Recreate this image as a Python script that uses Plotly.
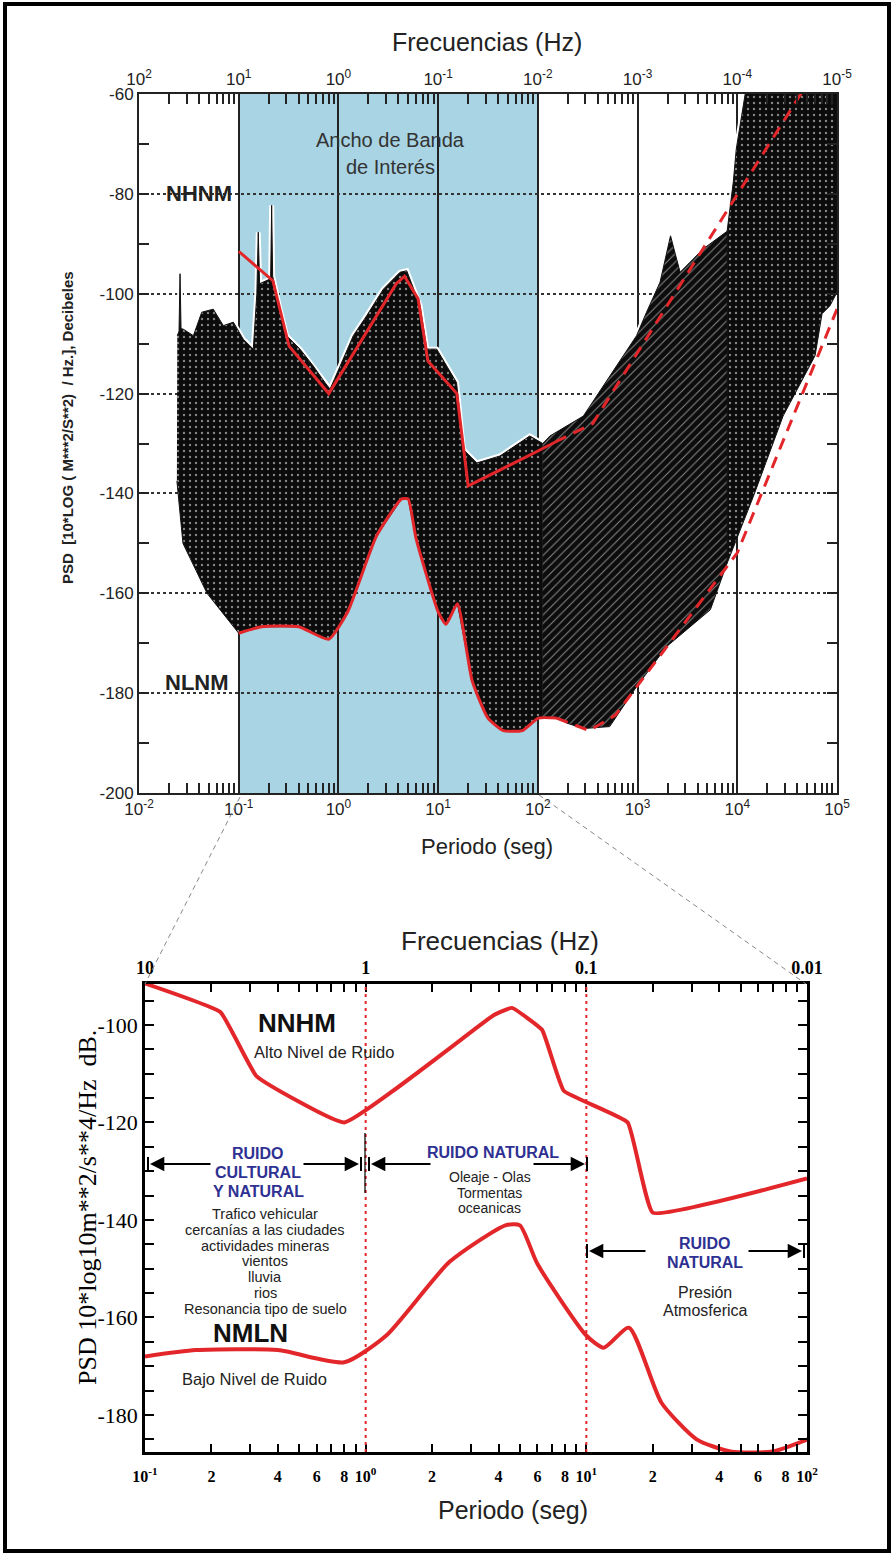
import plotly.graph_objects as go

W, H = 894, 1556
RED = '#E2262A'
BLUE_BAND = '#A8D4E4'
TXT_BLUE = '#2E3192'
SANS = 'Liberation Sans, Arial, sans-serif'
SERIF = 'Liberation Serif, Times New Roman, serif'

# ---------------- data ----------------
# New High Noise Model (period s, dB)
nhnm_period = [0.1, 0.22, 0.32, 0.8, 3.8, 4.6, 6.3, 7.9, 15.4, 20, 100, 150, 354.8, 100000]
nhnm_db = [-91.5, -97.4, -110.5, -120.0, -98.0, -96.5, -101.0, -113.5, -120.0, -138.5, -131.5, -129.7, -126.0, -48.5]

# New Low Noise Model (period s, dB)
nlnm_period = [0.1, 0.17, 0.4, 0.8, 1.24, 2.4, 4.3, 5.0, 6.0, 10, 12, 15.6, 21.9, 31.6, 45, 70,
               101, 154, 328, 600, 10000, 100000]
nlnm_db = [-168.0, -166.7, -166.7, -169.2, -163.7, -148.6, -141.1, -141.1, -149.0, -163.7, -166.2,
           -162.1, -177.5, -185.0, -187.5, -187.5, -185.0, -185.0, -187.5, -184.4, -151.9, -103.1]

# Envelope of the mass of measured PSD curves (top panel)
env_upper_period = [0.0242, 0.0252, 0.0258, 0.0264, 0.0278, 0.0351, 0.0426, 0.0556, 0.0701, 0.0883,
                    0.111, 0.140, 0.152, 0.157, 0.162, 0.176, 0.209, 0.214, 0.219, 0.259,
                    0.302, 0.412, 0.560, 0.733, 0.824, 1.04, 1.41, 1.92, 2.82, 4.15,
                    4.84, 6.58, 7.69, 9.68, 15.3, 17.9, 24.4, 41.7, 83, 112,
                    132, 286, 525, 977, 1230, 1680, 2140, 2670, 4570, 7900,
                    9120, 9770, 12000, 100000]
env_upper_db = [-108.4, -107.5, -96, -107, -107.1, -108.4, -103.7, -103.1, -106.4, -105.7,
                -109.1, -111.1, -100, -87.7, -98, -97.7, -97, -82.3, -96.5, -103.1,
                -108.4, -111.1, -114.5, -117.8, -119.1, -114.5, -108.4, -104.4, -99.1, -95.7,
                -95.4, -102.4, -111.1, -111.1, -117.8, -131.2, -133.9, -132.5, -128.5, -130,
                -128.5, -124.5, -116.5, -108.4, -103.7, -97.7, -88.4, -95.7, -91, -87.5,
                -77.6, -71, -60, -60]
env_lower_period = [0.0240, 0.0276, 0.0481, 0.0764, 0.100, 0.17, 0.40, 0.80, 1.24, 2.40,
                    4.30, 5.00, 6.00, 10.0, 12.0, 15.6, 21.9, 31.6, 45, 70,
                    101, 112, 154, 195, 286, 525, 977, 1950, 5370, 7900,
                    10700, 14500, 28800, 60300, 70800, 85100, 100000]
env_lower_db = [-137.5, -150, -160, -165, -168.0, -166.7, -166.7, -169.2, -163.7, -148.6,
                -141.1, -141.1, -149.0, -163.7, -166.2, -162.1, -177.5, -185.0, -187.5, -187.5,
                -185.0, -185.0, -185.0, -186, -187.1, -186.7, -178.7, -170.7, -163.3, -154.0,
                -147.2, -140.6, -124.5, -112.4, -104, -102.4, -99.7]

band_period = [0.1, 100]            # "Ancho de Banda de Interés"
bottom_marks = [1, 10]              # red dotted lines in the lower panel

# ---------------- helpers ----------------
def X(px):
    return px / W

def Y(py):
    return 1 - py / H

def sel(per, db, lo, hi):
    p = [a for a, b in zip(per, db) if lo <= a <= hi]
    d = [b for a, b in zip(per, db) if lo <= a <= hi]
    return p, d

fig = go.Figure()

# white halo around upper edge of the mass
fig.add_trace(go.Scatter(x=env_upper_period, y=env_upper_db, mode='lines',
                         line=dict(color='white', width=5), hoverinfo='skip',
                         xaxis='x', yaxis='y'))

# the mass of measured spectra, three regions
splits = [(0.0, 112), (112, 7900), (7900, 1e9)]
patterns = [dict(shape='.', bgcolor='#0b0b0b', fgcolor='white', size=6, solidity=0.12),
            dict(shape='/', bgcolor='#0c0c0c', fgcolor='white', size=6, solidity=0.18),
            dict(shape='.', bgcolor='#0b0b0b', fgcolor='white', size=6, solidity=0.12)]
for (lo, hi), pat in zip(splits, patterns):
    up, ud = sel(env_upper_period, env_upper_db, lo, hi)
    lp, ld = sel(env_lower_period, env_lower_db, lo, hi)
    fig.add_trace(go.Scatter(x=up + lp[::-1], y=ud + ld[::-1], mode='lines', fill='toself',
                             fillpattern=pat, line=dict(color='#111', width=1),
                             hoverinfo='skip', xaxis='x', yaxis='y'))

# NHNM / NLNM top panel
p, d = sel(nhnm_period, nhnm_db, 0, 150)
fig.add_trace(go.Scatter(x=p, y=d, mode='lines', line=dict(color=RED, width=3), xaxis='x', yaxis='y'))
p, d = sel(nhnm_period, nhnm_db, 150, 1e9)
fig.add_trace(go.Scatter(x=p, y=d, mode='lines', line=dict(color=RED, width=3, dash='12px,8px'),
                         xaxis='x', yaxis='y'))
p, d = sel(nlnm_period, nlnm_db, 0, 154)
fig.add_trace(go.Scatter(x=p, y=d, mode='lines', line=dict(color=RED, width=3, shape='spline', smoothing=0.5),
                         xaxis='x', yaxis='y'))
p, d = sel(nlnm_period, nlnm_db, 154, 1e9)
fig.add_trace(go.Scatter(x=p, y=d, mode='lines', line=dict(color=RED, width=3, dash='12px,8px'),
                         xaxis='x', yaxis='y'))

# Lower panel curves
p, d = sel(nhnm_period, nhnm_db, 0, 100)
fig.add_trace(go.Scatter(x=p, y=d, mode='lines', line=dict(color=RED, width=4, shape='spline', smoothing=0.3),
                         xaxis='x2', yaxis='y2'))
p, d = sel(nlnm_period, nlnm_db, 0, 101)
fig.add_trace(go.Scatter(x=p, y=d, mode='lines', line=dict(color=RED, width=4, shape='spline', smoothing=0.6),
                         xaxis='x2', yaxis='y2'))

# invisible carriers so that the frequency (top) axes are drawn
fig.add_trace(go.Scatter(x=[1], y=[-100], mode='markers', marker=dict(opacity=0, size=1),
                         hoverinfo='skip', xaxis='x3', yaxis='y'))
fig.add_trace(go.Scatter(x=[1], y=[-100], mode='markers', marker=dict(opacity=0, size=1),
                         hoverinfo='skip', xaxis='x4', yaxis='y2'))

# ---------------- axes ----------------
def log_ticks(lo, hi):
    major, minor = [], []
    for n in range(lo, hi):
        major.append(10.0 ** n)
        for k in range(2, 10):
            minor.append(k * 10.0 ** n)
    major.append(10.0 ** hi)
    return major, minor

tmaj, tmin = log_ticks(-2, 5)
bot_label = ['10<sup>%d</sup>' % n for n in range(-2, 6)]
top_label = ['10<sup>%d</sup>' % (-n) for n in range(-2, 6)]

# lower panel: labels at 10^n, 2, 4, 6, 8
bvals, btext, btop = [], [], []
top_names = {-1: '10', 0: '1', 1: '0.1', 2: '0.01'}
for n in range(-1, 3):
    ks = range(1, 10) if n < 2 else [1]
    for k in ks:
        bvals.append(k * 10.0 ** n)
        if k == 1:
            btext.append('<b>10<sup>%d</sup></b>' % n)
            btop.append('<b>%s</b>' % top_names[n])
        elif k in (2, 4, 6, 8):
            btext.append('<b>%d</b>' % k)
            btop.append('')
        else:
            btext.append('')
            btop.append('')

top_dom_x = [X(139), X(837)]
top_dom_y = [Y(793), Y(94)]
bot_dom_x = [X(145), X(807)]
bot_dom_y = [Y(1452), Y(984)]

tick_font_top = dict(family=SANS, size=17, color='#222')
common_line = dict(showline=True, linewidth=2, linecolor='#222', zeroline=False, automargin=False)

fig.update_layout(
    xaxis=dict(type='log', range=[-2, 5], domain=top_dom_x, anchor='y',
               tickmode='array', tickvals=tmaj, ticktext=bot_label,
               ticks='inside', ticklen=10, tickwidth=1.5, tickcolor='#222',
               showgrid=True, gridcolor='#222', gridwidth=1.5,
               minor=dict(tickvals=tmin, ticks='inside', ticklen=10, tickwidth=1.5,
                          tickcolor='#222', showgrid=False),
               tickfont=tick_font_top, **common_line),
    xaxis3=dict(type='log', range=[-2, 5], overlaying='x', side='top', anchor='y',
                tickmode='array', tickvals=tmaj, ticktext=top_label,
                ticks='inside', ticklen=10, tickwidth=1.5, tickcolor='#222', showgrid=False,
                minor=dict(tickvals=tmin, ticks='inside', ticklen=10, tickwidth=1.5,
                           tickcolor='#222', showgrid=False),
                tickfont=tick_font_top, **common_line),
    yaxis=dict(range=[-200, -60], domain=top_dom_y, anchor='x',
               tickmode='array', tickvals=list(range(-200, -59, 20)),
               ticktext=[str(v) for v in range(-200, -59, 20)],
               ticks='inside', ticklen=10, tickwidth=1.5, tickcolor='#222', mirror='ticks',
               showgrid=True, gridcolor='#333', griddash='dot', gridwidth=1.6,
               minor=dict(tickvals=list(range(-190, -60, 20)), ticks='inside', ticklen=10,
                          tickwidth=1.5, tickcolor='#222', showgrid=False),
               tickfont=tick_font_top, **common_line),
    xaxis2=dict(type='log', range=[-1, 2], domain=bot_dom_x, anchor='y2',
                tickmode='array', tickvals=bvals, ticktext=btext,
                ticks='inside', ticklen=8, tickwidth=1.5, tickcolor='black', showgrid=False,
                ticklabelstandoff=8,
                tickfont=dict(family=SERIF, size=16, color='black'),
                showline=True, linewidth=2.5, linecolor='black', zeroline=False, automargin=False),
    xaxis4=dict(type='log', range=[-1, 2], overlaying='x2', side='top', anchor='y2',
                tickmode='array', tickvals=bvals, ticktext=btop,
                ticks='inside', ticklen=8, tickwidth=1.5, tickcolor='black', showgrid=False,
                tickfont=dict(family=SERIF, size=18, color='black'),
                showline=True, linewidth=2.5, linecolor='black', zeroline=False, automargin=False),
    yaxis2=dict(range=[-187.6, -91.6], domain=bot_dom_y, anchor='x2',
                tickmode='array', tickvals=[-180, -160, -140, -120, -100],
                ticktext=['-180', '-160', '-140', '-120', '-100'],
                ticks='inside', ticklen=9, tickwidth=2, tickcolor='black', mirror='ticks',
                showgrid=False,
                minor=dict(tickvals=[v for v in range(-185, -91, 5) if v % 20 != 0],
                           ticks='inside', ticklen=9, tickwidth=2, tickcolor='black'),
                tickfont=dict(family=SERIF, size=22, color='black'),
                showline=True, linewidth=2.5, linecolor='black', zeroline=False, automargin=False),
)

# ---------------- shapes ----------------
shapes = []
shapes.append(dict(type='rect', xref='x', yref='y domain', x0=band_period[0], x1=band_period[1],
                   y0=0, y1=1, fillcolor=BLUE_BAND, line=dict(width=0), layer='below'))
for v in bottom_marks:
    shapes.append(dict(type='line', xref='x2', yref='y2 domain', x0=v, x1=v, y0=0, y1=1,
                       line=dict(color=RED, width=2, dash='3px,4px'), layer='above'))
# connectors between panels
shapes.append(dict(type='line', xref='paper', yref='paper', x0=X(240), y0=Y(797), x1=X(145), y1=Y(984),
                   line=dict(color='#888', width=1, dash='5px,4px')))
shapes.append(dict(type='line', xref='paper', yref='paper', x0=X(539), y0=Y(795), x1=X(806), y1=Y(984),
                   line=dict(color='#888', width=1, dash='5px,4px')))
# outer frame
shapes.append(dict(type='rect', xref='paper', yref='paper', x0=X(5), x1=X(889), y0=Y(1551), y1=Y(4),
                   line=dict(color='black', width=4), fillcolor='rgba(0,0,0,0)'))

# arrows' end bars
def bar(x, y, half=7, w=2):
    shapes.append(dict(type='line', xref='paper', yref='paper', x0=X(x), x1=X(x),
                       y0=Y(y - half), y1=Y(y + half), line=dict(color='black', width=w)))

for bx in (148, 361, 369, 587):
    bar(bx, 1164)
bar(365, 1163, half=30, w=1.2)
for bx in (587, 804):
    bar(bx, 1251)

# ---------------- annotations ----------------
ann = []

def txt(x, y, s, size, color='#222', family=SANS, bold=False, angle=0):
    if bold:
        s = '<b>' + s + '</b>'
    ann.append(dict(x=X(x), y=Y(y), xref='paper', yref='paper', text=s, showarrow=False,
                    font=dict(size=size, color=color, family=family),
                    xanchor='center', yanchor='middle', textangle=angle))

def arrow(xt, yt, dx):
    ann.append(dict(x=X(xt), y=Y(yt), xref='paper', yref='paper', ax=dx, ay=0,
                    text='', showarrow=True, arrowhead=2, arrowsize=1.3, arrowwidth=2.2,
                    arrowcolor='black'))

# top panel
txt(487, 42, 'Frecuencias (Hz)', 25)
txt(487, 846, 'Periodo (seg)', 22)
txt(68, 428, 'PSD  [10*LOG ( M***2/S**2)  / Hz.], Decibeles', 15, bold=True, angle=-90)
txt(390, 140, 'Ancho de Banda', 20, color='#333')
txt(390, 167, 'de Interés', 20, color='#333')
txt(199, 194, 'NHNM', 22, bold=True)
txt(197, 683, 'NLNM', 22, bold=True)

# lower panel
txt(500, 941, 'Frecuencias (Hz)', 26)
txt(513, 1510, 'Periodo (seg)', 25)
txt(87, 1208, 'PSD 10*log10m**2/s**4/Hz  dB.', 26, color='black', family=SERIF, angle=-90)
txt(297, 1023, 'NNHM', 26, color='#111', bold=True)
txt(324, 1052, 'Alto Nivel de Ruido', 16.5)
txt(258, 1153, 'RUIDO', 16, color=TXT_BLUE, bold=True)
txt(258, 1172, 'CULTURAL', 16, color=TXT_BLUE, bold=True)
txt(258, 1191, 'Y NATURAL', 16, color=TXT_BLUE, bold=True)
cultural = ['Trafico vehicular', 'cercanías a las ciudades', 'actividades mineras',
            'vientos', 'lluvia', 'rios', 'Resonancia tipo de suelo']
for i, s in enumerate(cultural):
    txt(265, 1214 + i * 15.8, s, 14.5)
txt(493, 1152, 'RUIDO NATURAL', 16, color=TXT_BLUE, bold=True)
txt(490, 1177, 'Oleaje - Olas', 14)
txt(490, 1193, 'Tormentas', 14)
txt(490, 1208, 'oceanicas', 14)
txt(705, 1243, 'RUIDO', 16, color=TXT_BLUE, bold=True)
txt(705, 1262, 'NATURAL', 16, color=TXT_BLUE, bold=True)
txt(705, 1292, 'Presión', 16)
txt(705, 1310, 'Atmosferica', 16)
txt(250, 1333, 'NMLN', 26, color='#111', bold=True)
txt(254, 1379, 'Bajo Nivel de Ruido', 16.5)

arrow(150, 1164, 62)
arrow(359, 1164, -57)
arrow(371, 1164, 61)
arrow(585, 1164, -53)
arrow(589, 1251, 58)
arrow(802, 1251, -55)

fig.update_layout(width=W, height=H, margin=dict(l=0, r=0, t=0, b=0, pad=0, autoexpand=False),
                  paper_bgcolor='white', plot_bgcolor='white', showlegend=False,
                  shapes=shapes, annotations=ann)

fig.write_html("out.html", config={'displayModeBar': False},
               post_script="document.body.style.margin='0';document.body.style.overflow='hidden';")
